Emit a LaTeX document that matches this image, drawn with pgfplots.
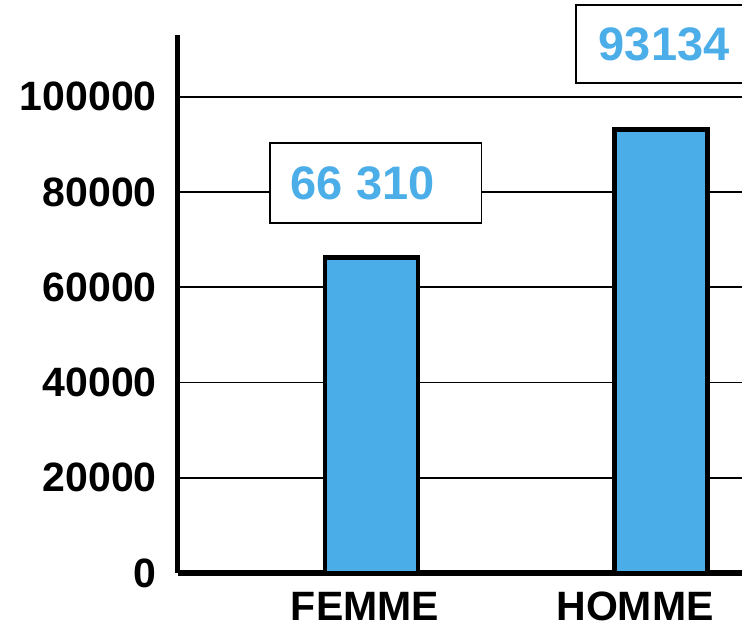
\documentclass[border=0pt]{standalone}
\usepackage{fontspec}
\setmainfont{Liberation Sans}
\usepackage{pgfplots}
\pgfplotsset{compat=1.18}
\definecolor{barblue}{HTML}{4BADE8}
\definecolor{labelblue}{HTML}{4BAEE8}

\begin{document}
\begin{tikzpicture}
\begin{scope}
\clip (-178pt,-55pt) rectangle (564pt,573pt);
\begin{axis}[
  at={(0pt,0pt)}, anchor=south west,
  scale only axis, width=622pt, height=538pt,
  xmin=0.3316, xmax=2.48, ymin=0, ymax=113000,
  clip=false,
  axis lines=left,
  axis line style={-},
  x axis line style={line width=6pt},
  y axis line style={line width=5pt},
  ytick={0,20000,40000,60000,80000,100000},
  yticklabels={0,20000,40000,60000,80000,100000},
  scaled y ticks=false,
  xtick={0.9775,1.91},
  xticklabels={FEMME,HOMME},
  major tick length=0pt,
  tick style={draw=none},
  tick label style={font=\fontsize{41}{41}\selectfont\bfseries},
  yticklabel style={anchor=east, inner sep=0pt, xshift=-21pt},
  xticklabel style={anchor=north, inner sep=0pt, yshift=-19pt},
  ymajorgrids,
  grid style={black, line width=1.8pt},
  ybar, bar width=93pt,
]
\addplot[fill=barblue, draw=black, line width=4.5pt] coordinates {(1,66310) (2,93134)};

% value boxes
\node[draw=black, line width=1.5pt, fill=white, text=labelblue,
      font=\fontsize{47}{47}\selectfont\bfseries,
      inner xsep=21pt, minimum height=80pt, anchor=west]
  at (axis cs:0.646,81933) {66 310\kern26pt};
\node[draw=black, line width=1.5pt, fill=white, text=labelblue,
      font=\fontsize{47}{47}\selectfont\bfseries,
      inner xsep=23pt, minimum height=78pt, anchor=west]
  at (axis cs:1.703,111134) {93134\kern36pt};
\end{axis}
\end{scope}
\pgfresetboundingbox
\path[use as bounding box] (-178pt,-55pt) rectangle (564pt,573pt);
\end{tikzpicture}
\end{document}
